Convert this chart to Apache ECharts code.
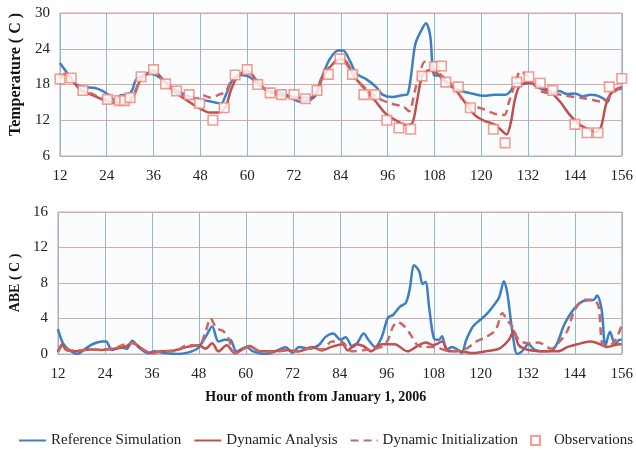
<!DOCTYPE html>
<html>
<head>
<meta charset="utf-8">
<title>Temperature and ABE</title>
<script src="https://cdn.jsdelivr.net/npm/echarts@6/dist/echarts.min.js"></script>
<style>
    html, body { margin: 0; padding: 0; background: #fff; }
    #temp_abe { width: 636px; height: 450px; }
</style>
</head>
<body>
<div id="temp_abe"></div>
<script>

// Chart data
// ------------------------------

var seriesNames = ['Reference Simulation', 'Dynamic Analysis', 'Dynamic Initialization', 'Observations'];
var hourTicks = [12, 24, 36, 48, 60, 72, 84, 96, 108, 120, 132, 144, 156];
var tempTicks = [6, 12, 18, 24, 30];
var abeTicks = [0, 4, 8, 12, 16];

// Temperature, [hour, C]
var refTemp = [[12,21.6],[14,19.8],[16,18.1],[18,17.6],[21,17.4],[23,16.9],[24.6,16.2],[26,15.4],[27.6,16.2],[29.3,16.3],[30.5,17.0],[31.4,18.7],[33,19.5],[35.2,19.8],[36.8,19.5],[38.5,18.7],[41,17.3],[44.4,16.2],[47,15.6],[50.3,15.2],[53.3,14.8],[54.5,16.2],[56.2,18.7],[58.3,19.6],[60.5,19.3],[63.5,17.6],[66,16.9],[69.4,16.5],[72,15.5],[73.6,15.1],[76.2,15.4],[77.9,16.5],[79.5,19.8],[81.2,22.3],[83.3,23.7],[84.6,23.7],[86.3,22.0],[88,19.8],[90.5,18.9],[93,17.6],[94.7,16.3],[97.2,15.9],[99.7,16.2],[101,16.3],[101.9,19.0],[103.1,24.8],[104.8,27.3],[105.8,28.3],[106.9,26.2],[107.5,21.0],[108,19.5],[109,19.5],[110.3,18.7],[112.4,17.6],[114.9,16.9],[117.5,16.5],[120.8,16.1],[123.4,16.3],[126.3,16.3],[127.6,17.0],[128.8,18.3],[131,18.1],[132.6,18.3],[134.3,17.6],[136.8,16.9],[138,16.6],[140,16.9],[142,16.4],[144,16.5],[146,16.0],[148,16.3],[149.4,16.2],[151.1,15.7],[152.4,15.1],[153.2,16.5],[154.9,17.2],[156,17.3]];
var daTemp = [[12,19.0],[13.7,19.8],[15.5,18.4],[17.5,17.0],[20,16.3],[22.5,15.6],[25,15.1],[27.6,14.7],[29.3,14.9],[31,16.2],[32.6,18.7],[34.3,19.8],[36,20.4],[38.5,18.7],[41,17.0],[44.4,15.4],[47.8,14.0],[50.3,13.3],[52.8,13.3],[54.5,14.3],[55.8,17.0],[57.5,19.3],[60,20.3],[62.7,18.4],[65.2,16.9],[68.6,16.2],[72,15.9],[75.3,15.7],[77.4,16.2],[79.1,19.0],[81.2,20.9],[83.7,22.3],[85.4,21.8],[87.5,19.3],[90.5,17.0],[93,15.1],[95.5,13.1],[98.1,12.0],[100.6,11.2],[102.3,11.5],[103.5,15.1],[104.8,19.3],[106.5,20.4],[108.2,20.1],[110.7,18.7],[113.2,17.3],[115.7,15.1],[118.3,12.9],[120.8,11.9],[123.4,11.3],[125.5,10.1],[126.5,9.6],[127.6,11.7],[128.5,15.1],[129.7,17.6],[131.8,18.3],[134.3,17.9],[137.7,16.8],[140.2,15.1],[142.7,12.9],[145.3,11.2],[147.8,10.4],[149.4,10.0],[150.7,10.9],[151.9,14.5],[153.2,16.5],[154.9,17.3],[156,17.6]];
var diTemp = [[12,19.2],[13.7,19.9],[15.5,18.5],[17.5,17.1],[20,16.5],[22.5,15.8],[25,15.3],[27.6,15.0],[29.3,15.1],[31,16.5],[32.6,18.8],[34.3,19.9],[36,20.3],[38.5,18.7],[41,17.1],[44.4,15.8],[47,15.6],[48.5,16.2],[50.5,15.8],[52.8,16.3],[54.5,16.8],[55.8,18.5],[57.5,19.6],[59.6,20.2],[62.7,18.5],[65.2,16.9],[68.6,16.3],[72,15.9],[75.3,15.8],[77.4,16.3],[79.1,19.2],[81.2,21.0],[83.7,22.2],[85.4,21.5],[87.5,19.2],[90.5,17.3],[93,16.0],[94.5,15.4],[96,15.0],[98,14.6],[100,14.3],[101.5,13.5],[103,17.0],[104.5,20.5],[105.5,21.8],[107,21.3],[108.5,20.3],[110.7,19.0],[113,17.6],[115.5,15.2],[117.5,14.5],[120,14.0],[123.4,13.1],[125.9,12.9],[127.1,15.1],[128.8,18.4],[130,20.2],[131.8,19.5],[133.4,18.1],[135.5,16.8],[138.5,16.5],[141.9,16.1],[146.1,15.7],[148.6,15.4],[151.1,15.1],[152.8,15.9],[154.5,17.0],[156,17.6]];
var obsTemp = [[12,18.9],[14.9,19.1],[17.9,17.0],[24.2,15.5],[27.2,15.3],[28.6,15.3],[30,15.8],[32.8,19.3],[36,20.5],[39.1,18.1],[41.9,16.9],[45.1,16.3],[47.8,14.8],[51.2,12.0],[54.1,14.1],[56.9,19.6],[60,20.5],[62.7,18.0],[65.9,16.6],[68.8,16.3],[72,16.3],[74.9,15.6],[77.9,17.0],[80.8,19.7],[83.8,22.3],[87,19.7],[89.9,16.3],[92.8,16.3],[95.8,12.0],[98.9,10.7],[101.9,10.5],[104.8,19.4],[108,21.0],[109.8,21.1],[110.9,18.4],[114.1,17.6],[117.2,14.1],[123.1,10.5],[126.1,8.2],[129.1,18.4],[132.2,19.3],[135.1,18.2],[138.3,17.0],[144,11.3],[147.1,9.9],[149.9,9.9],[152.8,17.6],[156,19.0]];

// ABE, [hour, C]
var refAbe = [[12,2.8],[13.3,1.2],[14.9,0.45],[17,0],[18.7,0.5],[20.8,1.1],[23.3,1.4],[24.3,1.4],[25.8,0.45],[27.9,0.75],[29.6,0.6],[31,1.5],[32.5,0.8],[35,0.1],[36.7,0.3],[39.2,0.1],[42.6,0],[45.1,0.15],[47.6,0.6],[49.7,1.9],[51.4,3.1],[53,1.4],[54.7,1.6],[56,1.6],[57.6,0.3],[60.2,0.8],[61.8,0.3],[65.2,0],[68.5,0.5],[70.2,0.75],[71.9,0.15],[73.6,0.8],[76.1,0.6],[78.6,1.0],[80.3,1.9],[82.3,2.3],[84.2,1.6],[85.5,1.9],[87.2,0.8],[88.4,1.2],[90.1,2.3],[91.3,1.6],[93,0.8],[94.7,1.9],[96.3,4.1],[97.6,4.4],[99.3,5.3],[100.9,5.8],[101.8,7.2],[103,10.0],[104.3,9.3],[105.1,7.9],[105.9,8.1],[106.8,5.3],[108,1.8],[109.3,1.6],[110.1,2.0],[111.3,0.45],[112.6,0.8],[114.3,0.45],[115.1,0.1],[116.3,1.6],[118,3.1],[119.7,3.8],[121.3,4.4],[123,5.3],[124.7,6.4],[125.9,8.2],[126.8,6.8],[128,2.7],[129.3,0],[130.5,0.3],[132.2,1.1],[133.8,0.45],[136.3,0.3],[138.4,0.45],[139.7,1.4],[141.3,3.3],[143,4.6],[144.7,5.5],[146.3,6.0],[148.8,6.1],[149.7,6.6],[150.9,4.9],[151.8,0.9],[153,2.5],[154.3,1.1],[155.5,1.6],[156,1.6]];
var daAbe = [[12,0.3],[13.1,1.1],[14.1,0.45],[16.6,0.3],[20,0.5],[23.3,0.45],[26.7,0.6],[29.2,0.8],[31.1,1.3],[33.4,0.6],[35.9,0.1],[38.4,0.3],[41.7,0.4],[45.1,0.8],[48,1.0],[49.7,0.6],[51.4,1.2],[53,0.3],[55.1,1.0],[57.2,0.1],[61,0.9],[63.5,0.3],[66.9,0.3],[70.2,0.45],[73.6,0.3],[76.9,0.8],[79.4,0.4],[81.9,0.8],[84.7,1.1],[86,0.4],[88,1.1],[90,0.9],[92,0.3],[94.7,1.1],[98,1.1],[101.3,0.3],[103.8,0.9],[105.9,1.3],[108,1.0],[110.1,1.4],[111.8,0.3],[114.7,0.3],[118,0.1],[121.3,0.3],[124.7,0.6],[127.2,1.6],[128.4,2.6],[129.7,1.0],[132.2,0.45],[136.3,0.3],[139.7,0.3],[142.2,0.8],[144.7,1.1],[148,1.4],[150.5,1.1],[152.2,0.8],[155.5,1.1],[156,1.1]];
var diAbe = [[12,0.2],[13.3,1.0],[14.5,0.5],[17,0.4],[20,0.5],[23.3,0.5],[26.7,0.7],[29.2,1.1],[31.1,1.2],[33.4,0.6],[36,0.1],[38.4,0.3],[41.7,0.3],[45.1,1.0],[48,1.0],[49.7,2.5],[51,4.0],[52.5,2.9],[54.2,2.6],[55.5,1.8],[57.2,0.1],[61,0.9],[63.5,0.3],[67,0.2],[70.2,0.4],[73.6,0.3],[76.9,0.7],[79.4,0.5],[82,1.4],[84.3,1.4],[87.2,0.3],[91.3,0.5],[94.7,0.8],[96.3,1.6],[97.6,3.1],[98.8,3.6],[100.5,3.1],[102.2,2.1],[103.8,1.0],[105.5,0.8],[108,0.8],[112.2,0.3],[116.3,0.6],[118.8,1.4],[121.3,1.9],[123.8,2.7],[125.5,4.6],[126.8,3.8],[128,3.1],[129.7,1.6],[132.2,1.2],[134.7,1.3],[138,0.6],[140.5,1.6],[142.2,2.7],[143.8,4.8],[146.3,6.1],[148.8,6.1],[150.1,5.3],[151.3,1.0],[153.8,1.2],[155.9,3.1]];


// Setup module
// ------------------------------

var EchartsTempAbe = function() {

    var _tempAbeChart = function() {
        if (typeof echarts == 'undefined') {
            console.warn('Warning - echarts.min.js is not loaded.');
            return;
        }

        var chart_element = document.getElementById('temp_abe');
        if (!chart_element) return;

        var chart = echarts.init(chart_element);

        var fontSerif = '"Liberation Serif", "Times New Roman", serif';
        var blue = '#3d7fc3';
        var red = '#c0504d';
        var redDash = '#cd6560';
        var obsRed = '#f08376';

        // Shared axis pieces
        var xAxisBase = function(gridIndex, extra) {
            var axis = {
                type: 'value',
                gridIndex: gridIndex,
                min: hourTicks[0],
                max: hourTicks[hourTicks.length - 1],
                interval: hourTicks[1] - hourTicks[0],
                axisLine: { show: true, lineStyle: { color: '#a9b6c2' } },
                axisTick: { show: false },
                axisLabel: { color: '#222', fontFamily: fontSerif, fontSize: 15, margin: 13 },
                splitLine: { show: true, lineStyle: { color: '#93b6d2', width: 1 } }
            };
            return Object.assign(axis, extra || {});
        };
        var yAxisBase = function(gridIndex, ticks, name, nameStyle) {
            return {
                type: 'value',
                gridIndex: gridIndex,
                min: ticks[0],
                max: ticks[ticks.length - 1],
                interval: ticks[1] - ticks[0],
                name: name,
                nameLocation: 'middle',
                nameGap: 30,
                nameTextStyle: Object.assign({ color: '#111', fontFamily: fontSerif, fontWeight: 'bold' }, nameStyle),
                axisLine: { show: false },
                axisTick: { show: false },
                axisLabel: { color: '#222', fontFamily: fontSerif, fontSize: 15, margin: 10 },
                splitLine: { show: true, lineStyle: { color: '#d3aca8', width: 1 } }
            };
        };

        var lineSeries = function(name, data, color, dashed, axisIndex) {
            return {
                name: name,
                type: 'line',
                xAxisIndex: axisIndex,
                yAxisIndex: axisIndex,
                data: data,
                smooth: 0.3,
                symbol: 'none',
                lineStyle: { color: color, width: 2.5, type: dashed ? [8, 5] : 'solid' },
                itemStyle: { color: color },
                z: dashed ? 3 : 2
            };
        };

        // Legend items: line icons without the marker dot
        var legendItems = [
            { name: seriesNames[0], itemStyle: { opacity: 0 } },
            { name: seriesNames[1], itemStyle: { opacity: 0 } },
            { name: seriesNames[2], itemStyle: { opacity: 0 } },
            { name: seriesNames[3], icon: 'path://M0,0h10v10h-10z' }
        ];

        chart.setOption({
            animation: false,
            textStyle: { fontFamily: fontSerif },

            grid: [
                { left: 54, right: 9, top: 13, height: 143, show: true, borderColor: '#d3aca8', backgroundColor: '#fbfcfe' },
                { left: 52, right: 9, top: 212, height: 142, show: true, borderColor: '#d3aca8', backgroundColor: '#fbfcfe' }
            ],

            legend: {
                data: legendItems,
                left: 13,
                top: 428,
                itemWidth: 27,
                itemHeight: 9,
                itemGap: 12,
                symbolKeepAspect: true,
                textStyle: { color: '#222', fontFamily: fontSerif, fontSize: 15 }
            },

            xAxis: [
                xAxisBase(0),
                xAxisBase(1, {
                    name: 'Hour of month from January 1, 2006',
                    nameLocation: 'middle',
                    nameGap: 36,
                    nameTextStyle: { color: '#111', fontFamily: fontSerif, fontSize: 14, fontWeight: 'bold', padding: [0, 48, 0, 0] }
                })
            ],

            yAxis: [
                yAxisBase(0, tempTicks, 'Temperature ( C )', { fontSize: 16, padding: [0, 0, 0, 20] }),
                yAxisBase(1, abeTicks, 'ABE ( C )', { fontSize: 14 })
            ],

            series: [
                lineSeries(seriesNames[0], refTemp, blue, false, 0),
                lineSeries(seriesNames[1], daTemp, red, false, 0),
                lineSeries(seriesNames[2], diTemp, redDash, true, 0),
                {
                    name: seriesNames[3],
                    type: 'scatter',
                    xAxisIndex: 0,
                    yAxisIndex: 0,
                    data: obsTemp,
                    symbol: 'rect',
                    symbolSize: 9.5,
                    itemStyle: { color: '#fff', borderColor: obsRed, borderWidth: 1.6 },
                    z: 5
                },
                lineSeries(seriesNames[0], refAbe, blue, false, 1),
                lineSeries(seriesNames[1], daAbe, red, false, 1),
                lineSeries(seriesNames[2], diAbe, redDash, true, 1)
            ]
        });

        // Resize
        window.addEventListener('resize', function() {
            chart.resize();
        });
    };

    return {
        init: function() {
            _tempAbeChart();
        }
    }
}();


// Initialize module
// ------------------------------

document.addEventListener('DOMContentLoaded', function() {
    EchartsTempAbe.init();
});
</script>
</body>
</html>
